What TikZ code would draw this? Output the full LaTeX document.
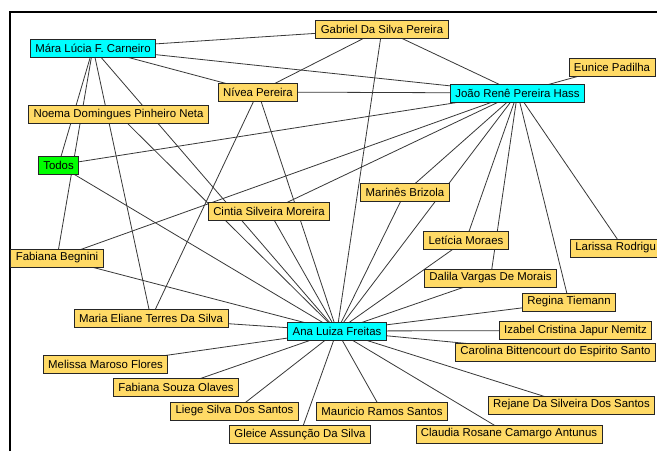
\documentclass[tikz,border=0pt]{standalone}
\usepackage{fontspec}
\setmainfont{Liberation Sans}
\usetikzlibrary{backgrounds}
\definecolor{nameyellow}{RGB}{255,218,102}
\definecolor{hubcyan}{RGB}{0,255,255}
\definecolor{groupgreen}{RGB}{0,255,0}
\tikzset{
  namenode/.style  = {draw=black!85, line width=0.8pt, fill=nameyellow,
                      minimum height=18pt, inner xsep=5pt, inner ysep=0pt,
                      font=\fontsize{11.4}{13}\selectfont},
  hubnode/.style   = {namenode, fill=hubcyan},
  groupnode/.style = {namenode, fill=groupgreen},
  tie/.style       = {-, line width=0.8pt, black!78},
  frameline/.style = {-, line width=2pt, black},
}

\begin{document}
\begin{tikzpicture}[x=1pt, y=-1pt]
  \useasboundingbox (0,0) rectangle (657,451);
  \clip (0,0) rectangle (657,451);

  % upper row
  \node[hubnode]  (mara)    at (93,48)      {Mára Lúcia F. Carneiro};
  \node[namenode] (gabriel) at (382,29)     {Gabriel Da Silva Pereira};
  \node[namenode] (eunice)  at (612,67)     {Eunice Padilha};
  \node[hubnode]  (joao)    at (517.5,93)   {João Renê Pereira Hass};
  \node[namenode] (nivea)   at (258,92)     {Nívea Pereira};
  \node[namenode] (noema)   at (118.5,114.5) {Noema Domingues Pinheiro Neta};
  \node[groupnode] (todos)  at (58.5,165)   {Todos};

  % middle
  \node[namenode] (marines)  at (405,192.5) {Marinês Brizola};
  \node[namenode] (cintia)   at (269,211)   {Cintia Silveira Moreira};
  \node[namenode] (leticia)  at (466,240)   {Letícia Moraes};
  \node[namenode, anchor=west, text width=96pt, align=left]
                  (larissa)  at (570,248)   {Larissa Rodrigu};
  \node[namenode] (fbegnini) at (57,258)    {Fabiana Begnini};
  \node[namenode] (dalila)   at (490.5,278) {Dalila Vargas De Morais};
  \node[namenode] (regina)   at (569,302)   {Regina Tiemann};
  \node[namenode] (meliane)  at (151,318.5) {Maria Eliane Terres Da Silva};

  % around Ana Luiza
  \node[hubnode]  (ana)      at (337,331)   {Ana Luiza Freitas};
  \node[namenode] (izabel)   at (575.5,330.5) {Izabel Cristina Japur Nemitz};
  \node[namenode] (carolina) at (555.5,352) {Carolina Bittencourt do Espirito Santo};
  \node[namenode] (melissa)  at (105.5,364) {Melissa Maroso Flores};
  \node[namenode] (fsouza)   at (176,387)   {Fabiana Souza Olaves};
  \node[namenode] (liege)    at (234.5,411) {Liege Silva Dos Santos};
  \node[namenode] (mauricio) at (382,411)   {Mauricio Ramos Santos};
  \node[namenode] (rejane)   at (571.5,405) {Rejane Da Silveira Dos Santos};
  \node[namenode] (gleice)   at (300,434.5) {Gleice Assunção Da Silva};
  \node[namenode] (claudia)  at (509,434)   {Claudia Rosane Camargo Antunus};

  \begin{scope}[on background layer]
    \fill[white] (0,0) rectangle (657,451);
    \draw[frameline] (10,451) -- (10,12) -- (657,12);
    % ties, centre to centre
    \foreach \a/\b in {mara/gabriel, mara/joao, mara/nivea, mara/todos,
        mara/fbegnini, mara/meliane, mara/ana,
        gabriel/nivea, gabriel/joao, gabriel/ana, eunice/joao,
        joao/nivea, joao/todos, joao/fbegnini, joao/cintia, joao/marines,
        joao/ana, joao/leticia, joao/dalila, joao/regina, joao/larissa,
        nivea/meliane, nivea/ana, noema/ana, todos/ana, marines/ana,
        cintia/ana, leticia/ana, dalila/ana, regina/ana, fbegnini/ana,
        meliane/ana, ana/izabel, ana/carolina, ana/melissa, ana/fsouza,
        ana/liege, ana/mauricio, ana/rejane, ana/gleice, ana/claudia}
      \draw[tie] (\a.center) -- (\b.center);
  \end{scope}
\end{tikzpicture}
\end{document}
